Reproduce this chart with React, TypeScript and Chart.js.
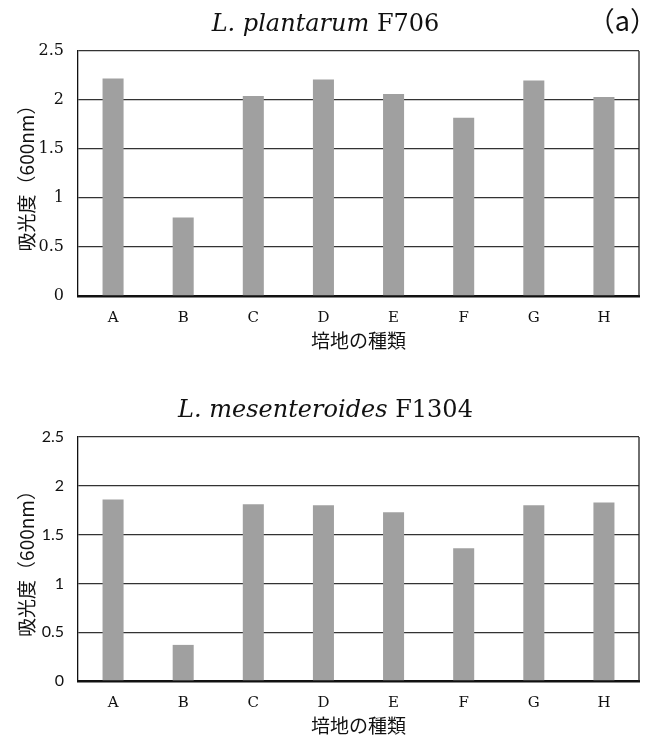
import React, { useEffect, useRef } from 'react';
import { Chart, registerables } from 'chart.js';

Chart.register(...registerables);

const categories = ['A', 'B', 'C', 'D', 'E', 'F', 'G', 'H'];
const plantarumValues = [2.22, 0.8, 2.04, 2.21, 2.06, 1.82, 2.2, 2.03];
const mesenteroidesValues = [1.86, 0.37, 1.81, 1.8, 1.73, 1.36, 1.8, 1.83];
const yTicks = [0, 0.5, 1, 1.5, 2, 2.5];
const yAxisTitle = '吸光度（600nm）';
const xAxisTitle = '培地の種類';
const panelLabel = '（a）';
const title1 = ['L. plantarum', 'F706'];
const title2 = ['L. mesenteroides', 'F1304'];

const W = 659;
const H = 371;
const SERIF = '"DejaVu Serif", "Liberation Serif", serif';
const SANS_JP = '"Noto Sans CJK JP", "Noto Sans", sans-serif';

type Opts = {
  values: number[];
  title: string[];
  panel?: string;
  plotTop: number;
  xAxisHeight: number;
  xTitlePadBottom: number;
  tickFamily: string;
};

function makeConfig(o: Opts): any {
  const titlePlugin = {
    id: 'mixedTitle',
    afterDraw(chart: any) {
      const ctx = chart.ctx;
      const area = chart.chartArea;
      ctx.save();
      const italicFont = `italic 24px ${SERIF}`;
      const romanFont = `24px ${SERIF}`;
      ctx.font = italicFont;
      const w1 = ctx.measureText(o.title[0] + ' ').width;
      ctx.font = romanFont;
      const w2 = ctx.measureText(o.title[1]).width;
      const total = w1 + w2;
      const x0 = W / 2 - 4 - total / 2;
      const base = area.top - 20;
      ctx.fillStyle = '#111';
      ctx.textBaseline = 'alphabetic';
      ctx.textAlign = 'left';
      ctx.font = italicFont;
      ctx.fillText(o.title[0] + ' ', x0, base);
      ctx.font = romanFont;
      ctx.fillText(o.title[1], x0 + w1, base);
      if (o.panel) {
        ctx.font = `27px ${SANS_JP}`;
        ctx.textAlign = 'right';
        ctx.fillText(o.panel, 657, base);
      }
      // right border of the plot frame
      ctx.strokeStyle = '#222';
      ctx.lineWidth = 1.3;
      ctx.beginPath();
      ctx.moveTo(area.right, area.top);
      ctx.lineTo(area.right, area.bottom);
      ctx.stroke();
      ctx.restore();
    },
  };

  return {
    type: 'bar',
    data: {
      labels: categories,
      datasets: [
        {
          data: o.values,
          backgroundColor: '#a0a0a0',
          borderWidth: 0,
          barPercentage: 0.3,
          categoryPercentage: 1,
        },
      ],
    },
    options: {
      responsive: false,
      animation: false,
      layout: { padding: { top: o.plotTop, right: 20, left: 0, bottom: 0 } },
      plugins: {
        legend: { display: false },
        tooltip: { enabled: false },
        title: { display: false },
      },
      scales: {
        x: {
          grid: { display: false, drawTicks: false },
          border: { display: true, color: '#111', width: 2.5 },
          ticks: {
            color: '#111',
            padding: 13,
            font: { family: SERIF, size: 15 },
          },
          title: {
            display: true,
            text: xAxisTitle,
            color: '#111',
            font: { family: SANS_JP, size: 19 },
            padding: { top: 0, bottom: o.xTitlePadBottom },
          },
          afterFit(scale: any) {
            scale.height = o.xAxisHeight;
          },
        },
        y: {
          min: 0,
          max: 2.5,
          afterBuildTicks(scale: any) {
            scale.ticks = yTicks.map((v) => ({ value: v }));
          },
          grid: { color: '#333', lineWidth: 1.3, drawTicks: false },
          border: { display: true, color: '#111', width: 1.3 },
          ticks: {
            color: '#111',
            padding: 14,
            font: { family: o.tickFamily, size: 16 },
            callback: (v: number) => String(v),
          },
          title: {
            display: true,
            text: yAxisTitle,
            color: '#111',
            font: { family: SANS_JP, size: 19 },
            padding: { top: 15, bottom: 0 },
          },
          afterFit(scale: any) {
            scale.width = 78;
          },
        },
      },
    },
    plugins: [titlePlugin],
  };
}

function BarPanel(props: Opts) {
  const ref = useRef<HTMLCanvasElement | null>(null);
  useEffect(() => {
    if (!ref.current) return;
    const chart = new Chart(ref.current, makeConfig(props));
    return () => chart.destroy();
  }, []);
  return (
    <div style={{ width: W, height: H }}>
      <canvas ref={ref} width={W} height={H} style={{ display: 'block' }} />
    </div>
  );
}

export default function App() {
  return (
    <div
      style={{
        position: 'absolute',
        left: 0,
        top: 0,
        width: W,
        height: 742,
        background: '#fff',
      }}
    >
      <BarPanel
        values={plantarumValues}
        title={title1}
        panel={panelLabel}
        plotTop={51}
        xAxisHeight={75}
        xTitlePadBottom={19}
        tickFamily={SERIF}
      />
      <BarPanel
        values={mesenteroidesValues}
        title={title2}
        plotTop={66}
        xAxisHeight={61}
        xTitlePadBottom={5}
        tickFamily={'Lato, "Liberation Sans", sans-serif'}
      />
    </div>
  );
}
